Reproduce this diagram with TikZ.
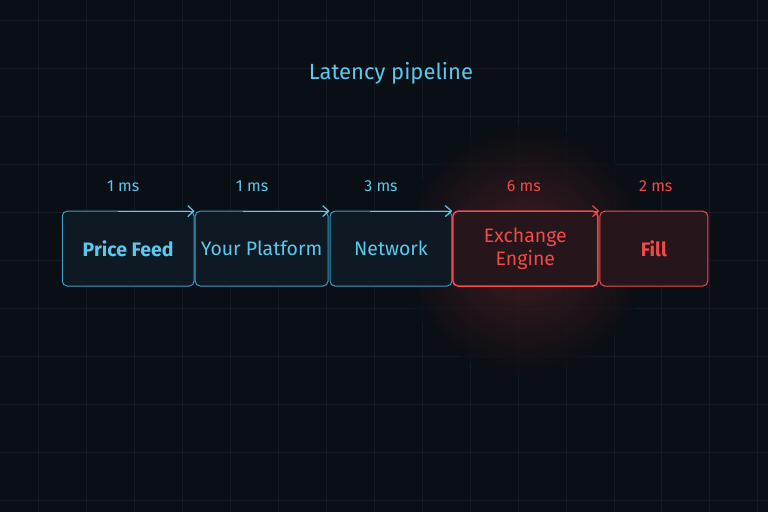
\documentclass[tikz,border=0pt]{standalone}
\usepackage{fontspec}
\setmainfont{Fira Sans}
\usetikzlibrary{arrows.meta}
\definecolor{bg}{HTML}{0A0E15}
\definecolor{cy}{HTML}{5CC8EC}
\definecolor{cyl}{HTML}{3A9CC4}
\definecolor{rd}{HTML}{F04A4A}
\definecolor{gridc}{HTML}{121B26}
\begin{document}
\begin{tikzpicture}[x=1pt,y=-1pt,
  bluebox/.style={draw=cyl, line width=1pt, rounded corners=5pt, fill=cyl!8!bg, minimum height=75pt, inner sep=0pt, text=cy, font=\fontsize{19.5}{23}\selectfont},
  redbox/.style={bluebox, draw=rd, fill=rd!12!bg, text=rd},
  lat/.style={font=\fontsize{16}{18}\selectfont},
  flow/.style={line width=1.2pt, -{Straight Barb[length=6pt,width=11pt]}}]
\fill[bg] (0,0) rectangle (768,512);
\foreach \x in {38,86,...,768} \draw[gridc, line width=0.6pt] (\x,0) -- (\x,512);
\foreach \y in {20,68,...,512} \draw[gridc, line width=0.6pt] (0,\y) -- (768,\y);
\shade[inner color=rd!35!bg, outer color=bg, opacity=0.7] (525,250) circle (125);
\node[text=cy, font=\fontsize{22}{26}\selectfont] (title) at (391,73) {Latency pipeline};
\node[bluebox, minimum width=132pt, font=\fontsize{19.5}{23}\selectfont\bfseries] (pf) at (128,248.5) {Price Feed};
\node[bluebox, minimum width=133pt] (yp) at (261.5,248.5) {Your Platform};
\node[bluebox, minimum width=122pt] (nw) at (391,248.5) {Network};
\node[redbox, minimum width=145pt, align=center, line width=1.5pt] (ex) at (525.5,248.5) {Exchange\\Engine};
\node[redbox, minimum width=108pt, font=\fontsize{19.5}{23}\selectfont\bfseries] (fl) at (654,248.5) {Fill};
\node[lat, text=cy] (l1) at (123,186) {1 ms};
\node[lat, text=cy] (l2) at (252,186) {1 ms};
\node[lat, text=cy] (l3) at (381,186) {3 ms};
\node[lat, text=rd] (l4) at (524,186) {6 ms};
\node[lat, text=rd] (l5) at (656,186) {2 ms};
\coordinate (a1) at (118,211); \coordinate (a2) at (243,211);
\coordinate (a3) at (370,211); \coordinate (a4) at (535,211);
\draw[flow, cy] (a1) -- (a1 -| yp.west);
\draw[flow, cy] (a2) -- (a2 -| nw.west);
\draw[flow, cy] (a3) -- (a3 -| ex.west);
\draw[flow, rd] (a4) -- (a4 -| fl.west);
\end{tikzpicture}
\end{document}
